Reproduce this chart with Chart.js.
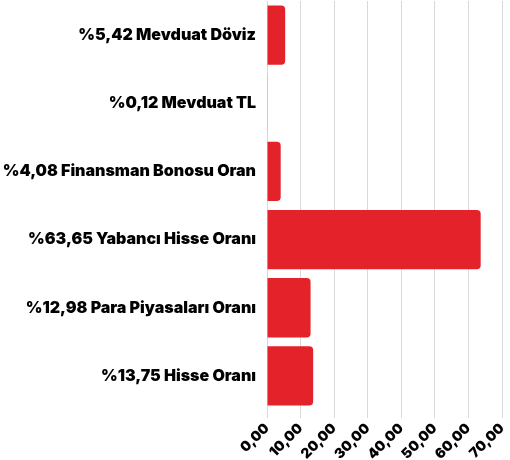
<!DOCTYPE html>
<html>
<head>
<meta charset="utf-8">
<script src="https://cdn.jsdelivr.net/npm/chart.js@4/dist/chart.umd.min.js"></script>
<style>
  html, body { margin: 0; padding: 0; background: #fff; }
  #wrap { width: 510px; height: 460px; }
</style>
</head>
<body>
<div id="wrap"><canvas id="barChart" width="510" height="460"></canvas></div>
<script>
var labels = [
  '%5,42 Mevduat Döviz',
  '%0,12 Mevduat TL',
  '%4,08 Finansman Bonosu Oran',
  '%63,65 Yabancı Hisse Oranı',
  '%12,98 Para Piyasaları Oranı',
  '%13,75 Hisse Oranı'
];
var values = [5.42, 0.12, 4.08, 63.65, 12.98, 13.75];
var xTicks = ['0,00', '10,00', '20,00', '30,00', '40,00', '50,00', '60,00', '70,00'];

(function() {
  // scale paddings off, layout padding decides the plot box
  var noPad = function(scale) {
    scale.paddingTop = 0;
    scale.paddingBottom = 0;
    scale.paddingLeft = 0;
    scale.paddingRight = 0;
  };

  var barChart = function() {
    var ctx = document.getElementById('barChart').getContext('2d');
    new Chart(ctx, {
      type: 'bar',
      data: {
        labels: labels,
        datasets: [{
          data: values,
          backgroundColor: '#e42229',
          borderWidth: 0,
          borderRadius: 4,
          borderSkipped: 'start',
          barPercentage: 0.87,
          categoryPercentage: 1
        }]
      },
      options: {
        indexAxis: 'y',
        responsive: false,
        animation: false,
        layout: { padding: { top: 1, right: 8, bottom: 0, left: 0 } },
        plugins: {
          legend: { display: false },
          tooltip: { enabled: false }
        },
        scales: {
          x: {
            min: 0,
            max: 70,
            grid: { color: '#d9d9d9', tickLength: 8 },
            border: { display: false },
            ticks: {
              stepSize: 10,
              minRotation: 45,
              maxRotation: 45,
              padding: 2,
              color: '#000',
              font: { family: 'Inter', weight: 900, size: 14 },
              callback: function(value, index) { return xTicks[index]; }
            },
            afterFit: function(scale) { noPad(scale); scale.height = 50; }
          },
          y: {
            grid: { display: false },
            border: { display: true, color: '#d9d9d9' },
            ticks: {
              color: '#000',
              font: { family: 'Inter', weight: 900, size: 16 }
            },
            afterFit: function(scale) { noPad(scale); scale.width = 267; }
          }
        }
      }
    });
  };
  barChart();
})();
</script>
</body>
</html>
